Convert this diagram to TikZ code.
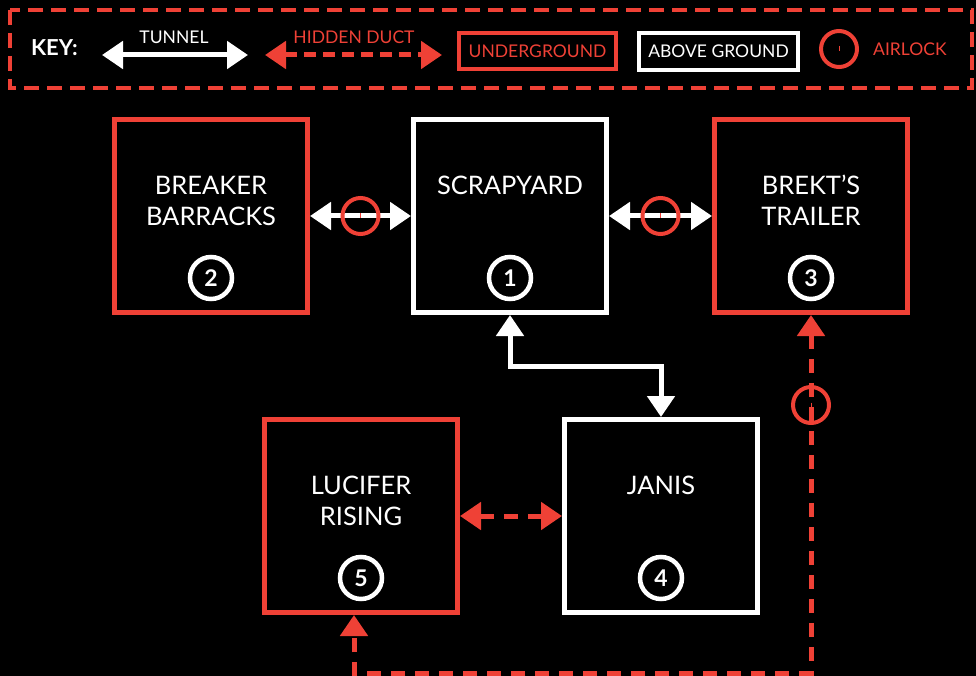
\documentclass[tikz,border=0pt]{standalone}
\usepackage{fontspec}
\setmainfont{Lato}
\usetikzlibrary{arrows.meta,calc}
\definecolor{kred}{RGB}{239,65,54}
\tikzset{
  room/.style={minimum width=193pt, minimum height=193pt, line width=5pt, inner sep=0pt, fill=black},
  ugroom/.style={room, draw=kred},
  agroom/.style={room, draw=white},
  rtitle/.style={text=white, font=\fontsize{25.5}{31}\selectfont, align=center, inner sep=0pt},
  numc/.style={circle, draw=white, line width=4.5pt, minimum size=42pt, inner sep=0pt, text=white, font=\fontsize{23}{23}\selectfont\bfseries},
  tunnel/.style={draw=white, line width=5pt, {Triangle[length=21pt,width=27pt]}-{Triangle[length=21pt,width=27pt]}},
  duct/.style={draw=kred, line width=5pt, dash pattern=on 14pt off 10pt, {Triangle[length=21pt,width=27pt]}-{Triangle[length=21pt,width=27pt]}},
  airlock/.style={circle, draw=kred, line width=4pt, minimum size=36pt, inner sep=0pt,
    path picture={\draw[kred,line width=1pt] (path picture bounding box.center) ++(0,-2.5) -- ++(0,5);}},
  keytxt/.style={font=\fontsize{17.5}{17.5}\selectfont, inner sep=0pt},
}
\begin{document}
\begin{tikzpicture}[x=1pt,y=-1pt]
\fill[black] (0,0) rectangle (976,676);
\useasboundingbox (0,0) rectangle (976,676);

% key
\draw[kred, line width=4pt, dash pattern=on 15pt off 8pt] (10,10) rectangle (972,88);
\node[text=white, font=\fontsize{22}{22}\selectfont\bfseries, inner sep=0pt] (keylbl) at (54.5,48) {KEY:};
\coordinate (ta) at (102,55);
\coordinate (tb) at (248,55);
\draw[tunnel] (ta) -- (tb);
\node[keytxt, text=white] (tlbl) at (174,37) {TUNNEL};
\coordinate (da) at (265,55);
\coordinate (db) at (442,55);
\draw[duct, dash pattern=on 12pt off 7pt] (da) -- (db);
\node[keytxt, text=kred] (dlbl) at (354,37) {HIDDEN DUCT};
\node[draw=kred, line width=4pt, minimum width=157pt, minimum height=36pt, inner sep=0pt, keytxt, text=kred] (kug) at (537.5,51) {UNDERGROUND};
\node[draw=white, line width=4pt, minimum width=159pt, minimum height=37pt, inner sep=0pt, keytxt, text=white] (kag) at (718.5,51.5) {ABOVE GROUND};
\node[airlock, minimum size=36pt] (kal) at (839,49) {};
\node[keytxt, text=kred, anchor=west] (allbl) at (873,49) {AIRLOCK};

% rooms
\node[ugroom] (bb) at (211,216) {};
\node[agroom] (sy) at (510,216) {};
\node[ugroom] (bt) at (811,216) {};
\node[ugroom] (lr) at (361,516) {};
\node[agroom] (ja) at (661,516) {};

\node[rtitle] (bbt) at ($(bb)+(0,-15.5)$) {BREAKER\\BARRACKS};
\node[rtitle] (syt) at ($(sy)+(0,-31)$) {SCRAPYARD};
\node[rtitle] (btt) at ($(bt)+(0,-15.5)$) {BREKT’S\\TRAILER};
\node[rtitle] (lrt) at ($(lr)+(0,-15)$) {LUCIFER\\RISING};
\node[rtitle] (jat) at ($(ja)+(0,-31)$) {JANIS};

\node[numc] (n2) at ($(bb)+(0,62)$) {2};
\node[numc] (n1) at ($(sy)+(0,62)$) {1};
\node[numc] (n3) at ($(bt)+(0,62)$) {3};
\node[numc] (n5) at ($(lr)+(0,62)$) {5};
\node[numc] (n4) at ($(ja)+(0,62)$) {4};

% connectors
\draw[tunnel] (bb) -- (sy);
\draw[tunnel] (sy) -- (bt);
\node[airlock] (a1) at ($(bb.east)!0.5!(sy.west)$) {};
\node[airlock] (a2) at ($(sy.east)!0.5!(bt.west)$) {};

\coordinate (syj) at ($(sy.south)+(0,51)$);
\draw[tunnel] (sy.south) -- (syj) -| (ja.north);

\draw[duct] (lr) -- (ja);

\coordinate (bot) at (0,673);
\coordinate (lrin) at ($(lr.south)+(-7,0)$);
\draw[duct] (bt.south) -- (bt.south |- bot) -| (lrin);
\node[airlock] (a3) at ($(bt.south)+(0,90)$) {};
\end{tikzpicture}
\end{document}
